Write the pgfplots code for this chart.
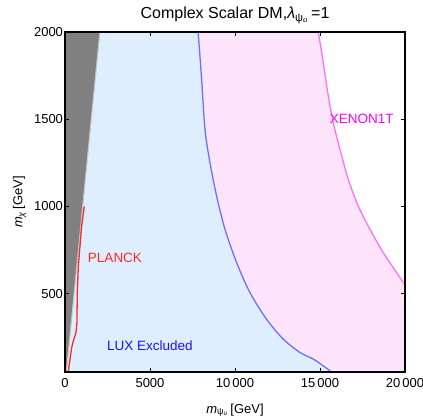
\documentclass[border=0pt]{standalone}
\usepackage{fontspec}
\setmainfont{Liberation Sans}
\usepackage{pgfplots}
\pgfplotsset{compat=1.18}
\definecolor{luxfill}{RGB}{222,238,255}
\definecolor{xenfill}{RGB}{253,228,251}
\definecolor{luxline}{RGB}{112,112,255}
\definecolor{xenline}{RGB}{255,112,255}
\definecolor{plred}{RGB}{255,40,40}
\definecolor{xentext}{RGB}{255,0,255}
\definecolor{luxtext}{RGB}{20,20,255}
\begin{document}
\begin{tikzpicture}
\begin{axis}[
  scale only axis, width=340pt, height=340pt,
  xmin=0, xmax=20000, ymin=50, ymax=2000,
  scaled x ticks=false, scaled y ticks=false,
  axis line style={line width=2pt},
  tick align=inside,
  xtick={0,5000,10000,15000,20000},
  xticklabels={0,5000,10\,000,15\,000,20\,000},
  ytick={500,1000,1500,2000},
  yticklabels={500,1000,1500,2000},
  tick style={black, line width=0.6pt},
  major tick length=4pt,
  ticklabel style={font=\fontsize{13}{15}\selectfont},
  xticklabel style={yshift=-3pt},
  yticklabel style={xshift=1.5pt},
  title={Complex Scalar DM,{\itshape λ}\textsubscript{ψ\textsubscript{\itshape u}}\,=1},
  title style={font=\fontsize{16}{18}\selectfont, yshift=-1pt},
  xlabel={{\itshape m}\textsubscript{ψ\textsubscript{\itshape u}}\,[GeV]},
  ylabel={{\itshape m}\textsubscript{\itshape χ}\,[GeV]},
  label style={font=\fontsize{13}{15}\selectfont},
  xlabel style={yshift=-9pt},
  ylabel style={yshift=1pt},
  axis on top,
  clip=true,
]
% LUX excluded fill (left of blue curve)
\addplot[fill=luxfill, draw=none] coordinates {
  (0,50) (15650,50) (15588,57) (15196,85) (14608,124) (13824,162) (12843,238)
  (11863,352) (10882,505) (10098,677) (9412,868) (8922,1058) (8529,1250)
  (8235,1440) (8039,1727) (7830,2000) (0,2000)
} --cycle;
% XENON1T fill
\addplot[fill=xenfill, draw=none] coordinates {
  (7830,2000) (8039,1727) (8235,1440) (8529,1250) (8922,1058) (9412,868)
  (10098,677) (10882,505) (11863,352) (12843,238) (13824,162) (14608,124)
  (15196,85) (15588,57) (15650,50) (20000,50) (20000,555)
  (19902,563) (19510,620) (18725,734) (17941,868) (17255,1001) (16667,1154)
  (16176,1326) (15784,1479) (15490,1631) (15196,1822) (14902,2000)
} --cycle;
% gray region
\addplot[fill=gray, draw=none] coordinates {
  (0,50) (80,50) (2050,2000) (0,2000)
} --cycle;
\addplot[color=gray!45, line width=1pt] coordinates {(80,50) (2050,2000)};
% LUX boundary
\addplot[color=luxline, line width=1.3pt, smooth, tension=0.5] coordinates {
  (7830,2000) (8039,1727) (8235,1440) (8529,1250) (8922,1058) (9412,868)
  (10098,677) (10882,505) (11863,352) (12843,238) (13824,162) (14608,124)
  (15196,85) (15588,57) (15650,50)
};
% XENON1T boundary
\addplot[color=xenline, line width=1.3pt, smooth, tension=0.5] coordinates {
  (14902,2000) (15196,1822) (15490,1631) (15784,1479) (16176,1326) (16667,1154)
  (17255,1001) (17941,868) (18725,734) (19510,620) (19902,563) (20000,555)
};
% PLANCK
\addplot[color=plred, line width=1.3pt] coordinates {
  (196,55) (392,190) (490,228) (647,276) (700,330) (725,505) (784,657) (882,772)
  (980,887) (1137,1000)
};
\node[text=plred, font=\fontsize{13.5}{15}\selectfont] at (axis cs:2941,707) {PLANCK};
\node[text=luxtext, font=\fontsize{13.5}{15}\selectfont] at (axis cs:5000,203) {LUX Excluded};
\node[text=xentext, font=\fontsize{13.5}{15}\selectfont] at (axis cs:17451,1503) {XENON1T};
\end{axis}
\pgfresetboundingbox
\useasboundingbox ([xshift=-65pt,yshift=-47pt]current axis.south west) rectangle ([xshift=18pt,yshift=32pt]current axis.north east);
\end{tikzpicture}
\end{document}
